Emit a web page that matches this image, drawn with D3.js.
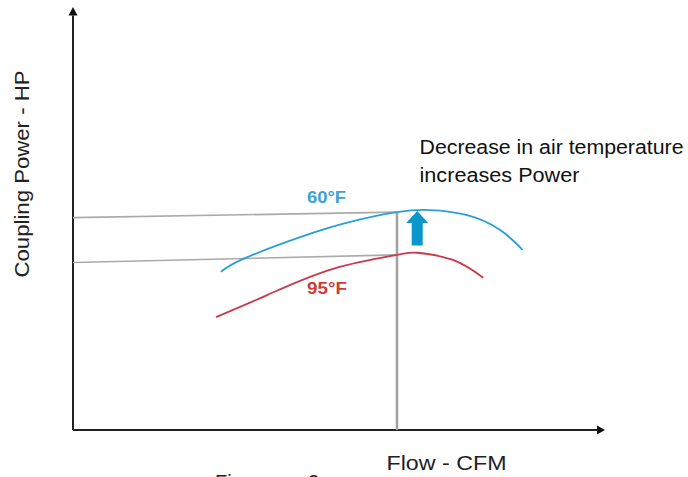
<!DOCTYPE html>
<html>
<head>
<meta charset="utf-8">
<script src="https://cdn.jsdelivr.net/npm/d3@7"></script>
<style>
    body { margin: 0; background: #fff; }
    text { font-family: "Liberation Sans", Arial, sans-serif; }
</style>
</head>
<body>
<svg id="chart" width="688" height="477"></svg>
<script>
// curve at 60°F (flow, power) in arbitrary units
const flow_60 = [27.8, 32.1, 42.7, 52.1, 60.9, 67.1, 74.1, 80.3, 84.5];
const power_60 = [37.4, 40.5, 45.6, 49.2, 51.5, 52.0, 50.8, 47.3, 42.6];
// curve at 95°F
const flow_95 = [26.9, 36.5, 48.9, 60.9, 64.7, 71.4, 77.1];
const power_95 = [26.7, 31.9, 38.1, 41.4, 41.9, 40.2, 36.0];
// operating point and read-off lines
const op_flow = 60.9;
const ref_lines = [[50.2, 51.5], [39.6, 41.4]];
const arrow_flow = 64.7;
const arrow_power = [43.6, 51.8];

const svg = d3.select("#chart");

let xScale = d3.scaleLinear().domain([0, 100]).range([73, 605]);
let yScale = d3.scaleLinear().domain([0, 100]).range([430, 7]);

// axes with arrowheads
let axisG = svg.append("g").classed("axes", true);
axisG.append("line")
    .attr("x1", xScale(0)).attr("y1", yScale(0))
    .attr("x2", xScale(0)).attr("y2", yScale(98))
    .attr("stroke", "#222").attr("stroke-width", 2);
axisG.append("line")
    .attr("x1", xScale(0)).attr("y1", yScale(0))
    .attr("x2", xScale(98.5)).attr("y2", yScale(0))
    .attr("stroke", "#222").attr("stroke-width", 2);
axisG.append("path")
    .attr("d", `M${xScale(0) - 4.5},${yScale(98)} L${xScale(0)},${yScale(100)} L${xScale(0) + 4.5},${yScale(98)} Z`)
    .attr("fill", "#111");
axisG.append("path")
    .attr("d", `M${xScale(98.5)},${yScale(0) - 4.5} L${xScale(100)},${yScale(0)} L${xScale(98.5)},${yScale(0) + 4.5} Z`)
    .attr("fill", "#111");

// gray guide lines
let guideG = svg.append("g").classed("guides", true);
guideG.selectAll("line.h")
    .data(ref_lines)
    .enter()
    .append("line")
    .attr("class", "h")
    .attr("x1", xScale(0)).attr("y1", d => yScale(d[0]))
    .attr("x2", xScale(op_flow)).attr("y2", d => yScale(d[1]))
    .attr("stroke", "#aaa").attr("stroke-width", 1.6);
guideG.append("line")
    .attr("x1", xScale(op_flow)).attr("y1", yScale(0))
    .attr("x2", xScale(op_flow)).attr("y2", yScale(ref_lines[0][1]))
    .attr("stroke", "#a3a3a3").attr("stroke-width", 2.6);

// curves
let line = d3.line()
    .x(d => xScale(d[0]))
    .y(d => yScale(d[1]))
    .curve(d3.curveNatural);

svg.append("path")
    .datum(d3.zip(flow_60, power_60))
    .attr("d", line)
    .attr("fill", "none").attr("stroke", "#2a9fd6").attr("stroke-width", 1.8);
svg.append("path")
    .datum(d3.zip(flow_95, power_95))
    .attr("d", line)
    .attr("fill", "none").attr("stroke", "#c83a4c").attr("stroke-width", 1.8);

// up arrow
let ax = xScale(arrow_flow), yb = yScale(arrow_power[0]), yt = yScale(arrow_power[1]);
let yh = yt + 12;
svg.append("path")
    .attr("d", `M${ax - 5.5},${yb} L${ax - 5.5},${yh} L${ax - 11},${yh} L${ax},${yt} L${ax + 11},${yh} L${ax + 5.5},${yh} L${ax + 5.5},${yb} Z`)
    .attr("fill", "#0a97cc");

// labels
svg.append("text")
    .attr("x", 307).attr("y", 202.5)
    .attr("font-size", 16).attr("font-weight", "bold")
    .attr("fill", "#3aa2d8")
    .attr("textLength", 39).attr("lengthAdjust", "spacingAndGlyphs")
    .text("60°F");
svg.append("text")
    .attr("x", 307).attr("y", 293.5)
    .attr("font-size", 16).attr("font-weight", "bold")
    .attr("fill", "#d23a33")
    .attr("textLength", 40).attr("lengthAdjust", "spacingAndGlyphs")
    .text("95°F");

svg.append("text")
    .attr("x", 419.5).attr("y", 154)
    .attr("font-size", 20).attr("fill", "#111")
    .attr("textLength", 264).attr("lengthAdjust", "spacingAndGlyphs")
    .text("Decrease in air temperature");
svg.append("text")
    .attr("x", 419.5).attr("y", 181.5)
    .attr("font-size", 20).attr("fill", "#111")
    .attr("textLength", 160).attr("lengthAdjust", "spacingAndGlyphs")
    .text("increases Power");

svg.append("text")
    .attr("x", 386.5).attr("y", 470)
    .attr("font-size", 21).attr("fill", "#222")
    .attr("textLength", 120).attr("lengthAdjust", "spacingAndGlyphs")
    .text("Flow - CFM");

svg.append("text")
    .attr("transform", `translate(28.5, 174) rotate(-90)`)
    .attr("text-anchor", "middle")
    .attr("font-size", 21).attr("fill", "#222")
    .attr("textLength", 207).attr("lengthAdjust", "spacingAndGlyphs")
    .text("Coupling Power - HP");

// caption cut off at bottom edge, as in the source
svg.append("text")
    .attr("x", 215).attr("y", 489)
    .attr("font-size", 20).attr("fill", "#222")
    .text("Figure")
    .append("tspan").attr("x", 308).text("2");
</script>
</body>
</html>
